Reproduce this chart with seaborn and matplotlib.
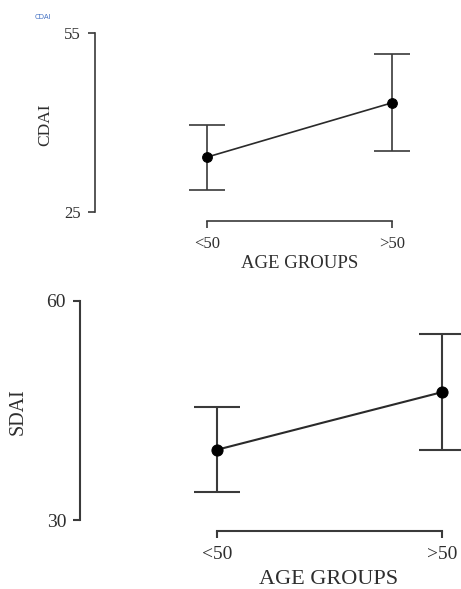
import seaborn as sns
import matplotlib.pyplot as plt
import pandas as pd

# data (means with upper / lower error limits)
groups = ['<50', '>50']
cdai_mean = [34.2, 43.3]
cdai_low = [28.7, 35.2]
cdai_high = [39.6, 51.4]
sdai_mean = [39.6, 47.5]
sdai_low = [33.8, 39.6]
sdai_high = [45.4, 55.5]

sns.set_style("white")
plt.rcParams['font.family'] = ['Liberation Serif', 'DejaVu Serif']

fig = plt.figure(figsize=(4.61, 5.89), dpi=100)
W, H = 461, 589


def px_axes(left, top, right, bottom):
    return fig.add_axes([left / W, 1 - bottom / H, (right - left) / W, (bottom - top) / H])


def panel(ax, means, low, high, ylab, yticks, xlim, ylim, cap, lw, ms, tick_fs, xlab_fs,
          ylab_fs, ylab_xy, xlab_xy):
    xs = [1, 2]
    df = pd.DataFrame({'x': xs, 'y': means})
    err = [[m - l for m, l in zip(means, low)], [h - m for m, h in zip(means, high)]]
    ax.errorbar(xs, means, yerr=err, fmt='none', ecolor='#3a3a3a', elinewidth=lw,
                capsize=cap, capthick=lw, clip_on=False)
    sns.lineplot(data=df, x='x', y='y', ax=ax, color='#2a2a2a', linewidth=lw,
                 marker='o', markersize=ms, markerfacecolor='black',
                 markeredgecolor='black', clip_on=False)
    ax.set_xlim(*xlim)
    ax.set_ylim(*ylim)
    sns.despine(ax=ax)
    for side in ['left', 'bottom']:
        ax.spines[side].set_color('#3a3a3a')
        ax.spines[side].set_linewidth(lw)
    ax.spines['left'].set_bounds(yticks[0], yticks[-1])
    ax.spines['bottom'].set_bounds(1, 2)
    ax.set_xticks(xs)
    ax.set_xticklabels(groups)
    ax.set_yticks(yticks)
    ax.tick_params(axis='both', direction='out', length=5, width=lw, color='#3a3a3a',
                   labelsize=tick_fs, labelcolor='#2e2e2e', left=True, bottom=True)
    ax.tick_params(axis='x', pad=6)
    ax.tick_params(axis='y', pad=5)
    ax.set_xlabel('AGE GROUPS', fontsize=xlab_fs, color='#2e2e2e')
    ax.set_ylabel(ylab, fontsize=ylab_fs, color='#2e2e2e')
    ax.xaxis.label.set_va('center')
    ax.yaxis.label.set_va('center')
    ax.xaxis.set_label_coords(*xlab_xy)
    ax.yaxis.set_label_coords(*ylab_xy)
    ax.grid(False)


# top panel
ax1 = px_axes(95, 30, 429, 221)
panel(ax1, cdai_mean, cdai_low, cdai_high, 'CDAI', [25, 55], (0.395, 2.2), (23.5, 55.5),
      cap=13, lw=1.2, ms=7, tick_fs=12, xlab_fs=13.5, ylab_fs=12.5,
      ylab_xy=(-0.15, 0.503), xlab_xy=(0.612, -0.22))

# bottom panel
ax2 = px_axes(80, 297, 510, 530.7)
panel(ax2, sdai_mean, sdai_low, sdai_high, 'SDAI', [30, 60], (0.394, 2.3), (28.54, 60.5),
      cap=16.5, lw=1.5, ms=8, tick_fs=14, xlab_fs=16, ylab_fs=14.5,
      ylab_xy=(-0.144, 0.509), xlab_xy=(0.579, -0.208))

fig.text(43 / W, 1 - 17 / H, 'CDAI', fontsize=5, color='#4472c4',
         family=['DejaVu Sans'], ha='center', va='center')

fig.savefig('out.png', dpi=100)
